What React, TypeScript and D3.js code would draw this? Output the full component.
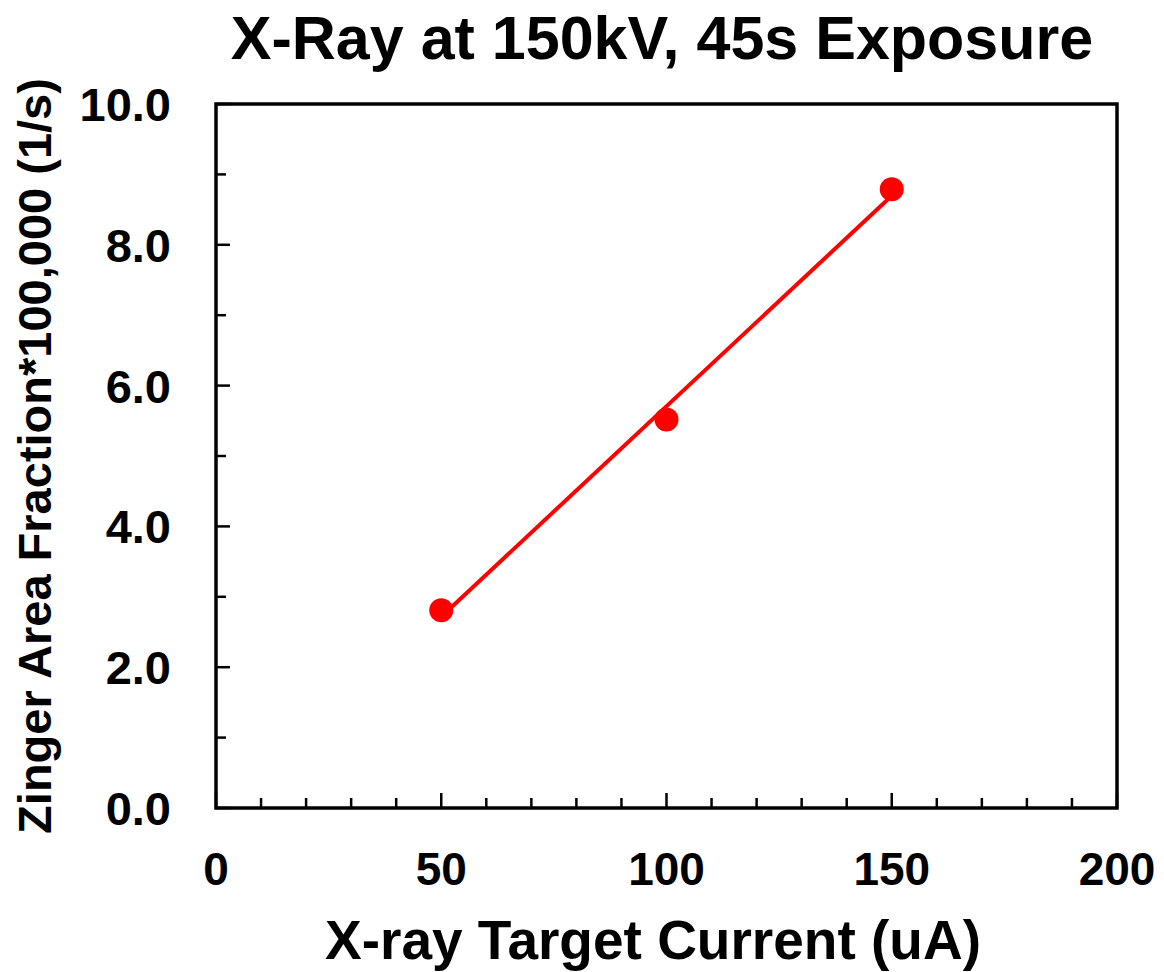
import React from "react";
import * as d3 from "d3";

const currents = [50, 100, 150];
const zingerFraction = [2.81, 5.52, 8.79];
const xTicks = [0, 50, 100, 150, 200];
const yTicks = [0, 2, 4, 6, 8, 10];
const xMinorTicks = d3.range(0, 201, 10);
const yMinorTicks = d3.range(0, 10.01, 1);

const W = 1164;
const H = 972;
const left = 216;
const right = 1117;
const top = 104;
const bottom = 808;
const FONT = "'Liberation Sans', Arial, sans-serif";

export default function App() {
  const x = d3.scaleLinear().domain([0, 200]).range([left, right]);
  const y = d3.scaleLinear().domain([0, 10]).range([bottom, top]);

  const n = currents.length;
  const mx = d3.mean(currents) as number;
  const my = d3.mean(zingerFraction) as number;
  let sxy = 0, sxx = 0;
  for (let i = 0; i < n; i++) {
    sxy += (currents[i] - mx) * (zingerFraction[i] - my);
    sxx += (currents[i] - mx) ** 2;
  }
  const slope = sxy / sxx;
  const intercept = my - slope * mx;
  const xmin = d3.min(currents) as number;
  const xmax = d3.max(currents) as number;
  const fit: [number, number][] = [
    [xmin, intercept + slope * xmin],
    [xmax, intercept + slope * xmax],
  ];
  const lineGen = d3
    .line<[number, number]>()
    .x((d) => x(d[0]))
    .y((d) => y(d[1]));

  return (
    <svg
      width={W}
      height={H}
      style={{ position: "absolute", left: 0, top: 0, background: "#fff" }}
      fontFamily={FONT}
      fontWeight="bold"
    >
      <rect x={0} y={0} width={W} height={H} fill="#fff" />
      <text x={662} y={59} fontSize={61} textAnchor="middle" fill="#000">
        X-Ray at 150kV, 45s Exposure
      </text>

      {xMinorTicks.map((t) => (
        <line
          key={"xt" + t}
          x1={x(t)}
          x2={x(t)}
          y1={bottom}
          y2={bottom - (t % 50 === 0 ? 15 : 10)}
          stroke="#000"
          strokeWidth={2.5}
        />
      ))}
      {yMinorTicks.map((t) => (
        <line
          key={"yt" + t}
          x1={left}
          x2={left + (Math.round(t) % 2 === 0 ? 14 : 10)}
          y1={y(t)}
          y2={y(t)}
          stroke="#000"
          strokeWidth={2.5}
        />
      ))}

      <rect
        x={left}
        y={top}
        width={right - left}
        height={bottom - top}
        fill="none"
        stroke="#000"
        strokeWidth={3.5}
      />

      {xTicks.map((t) => (
        <text
          key={"xl" + t}
          x={x(t)}
          y={885}
          fontSize={46}
          textAnchor="middle"
          fill="#000"
        >
          {t}
        </text>
      ))}
      {yTicks.map((t) => (
        <text
          key={"yl" + t}
          x={171}
          y={y(t) + 17}
          fontSize={47}
          textAnchor="end"
          fill="#000"
        >
          {t.toFixed(1)}
        </text>
      ))}

      <text x={653} y={959} fontSize={55} textAnchor="middle" fill="#000">
        X-ray Target Current (uA)
      </text>
      <text
        transform={`translate(51, 456) rotate(-90)`}
        fontSize={47}
        textAnchor="middle"
        fill="#000"
      >
        Zinger Area Fraction*100,000 (1/s)
      </text>

      <path d={lineGen(fit) || ""} stroke="#ff0000" strokeWidth={4} fill="none" />
      {currents.map((c, i) => (
        <circle key={"p" + i} cx={x(c)} cy={y(zingerFraction[i])} r={12} fill="#ff0000" />
      ))}
    </svg>
  );
}
